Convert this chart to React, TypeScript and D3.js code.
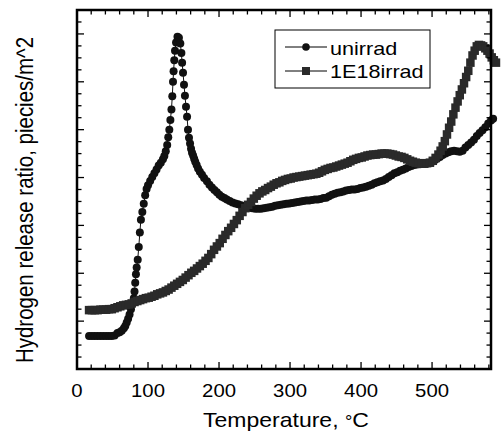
import React from "react";
import * as d3 from "d3";

const W = 501;
const H = 434;

const xMajorTicks = [0, 100, 200, 300, 400, 500];
const yMajorTicks = [0, 1, 2, 3, 4, 5, 6, 7];

const seriesNames = ["unirrad", "1E18irrad"];

// unirrad: [temperature °C, release ratio (arb.)]
const unirradT = [17,21,25,29,33,37,41,45,49,53,57,60,63,66,68,70,72,74,76,78,80,81,82,83,84,85.5,87,88.5,90,92,94,96,98,100,103,106,109,112,115,118,121,123,125,127,128.5,130,131.5,133,134.2,135.2,136,137,138,139.5,141.5,143.5,145.5,147,148,149.3,150.7,152,153.5,155,156.3,157.7,159.2,160.6,162,163.5,165,166.5,168.5,170.5,173,176,179,183,186.5,190,193.5,197,200.5,204,207.5,211,215,219,223,227,231,235,239,243,247,251,255,259,263,267,271,275,279,283,287,291,295,299,303,307,311,315,319,323,327,331,335,339,343,347,351,355,359,363,367,371,375,379,383,387,391,395,399,403,407,411,415,419,423,427,431,435,439,443,447,451,455,459,463,467,471,475,479,483,487,491,495,499,503,507,511,515,519,523,527,531,535,539,543,547,551,555,559,563,567,571,575,579,583,586];
const unirradV = [0.69,0.69,0.69,0.69,0.69,0.69,0.69,0.69,0.69,0.7,0.75,0.77,0.8,0.85,0.9,0.97,1.05,1.14,1.25,1.36,1.48,1.62,1.8,1.98,2.12,2.28,2.55,2.85,3.12,3.28,3.45,3.63,3.76,3.84,3.93,4.01,4.09,4.17,4.25,4.31,4.38,4.45,4.55,4.68,4.84,5.0,5.2,5.42,5.7,6.0,6.22,6.45,6.65,6.82,6.94,6.92,6.8,6.6,6.4,6.19,5.94,5.71,5.48,5.27,5.0,4.83,4.71,4.6,4.52,4.46,4.39,4.33,4.26,4.19,4.12,4.06,3.99,3.92,3.85,3.79,3.74,3.69,3.64,3.6,3.57,3.54,3.51,3.48,3.46,3.44,3.42,3.4,3.38,3.37,3.36,3.35,3.35,3.35,3.36,3.37,3.38,3.39,3.41,3.42,3.43,3.44,3.45,3.46,3.47,3.48,3.49,3.5,3.51,3.52,3.52,3.53,3.54,3.54,3.55,3.57,3.58,3.61,3.64,3.66,3.68,3.69,3.71,3.73,3.74,3.75,3.75,3.76,3.78,3.79,3.81,3.83,3.85,3.88,3.9,3.92,3.94,3.97,4.01,4.05,4.09,4.11,4.14,4.16,4.19,4.22,4.24,4.26,4.27,4.28,4.29,4.29,4.3,4.32,4.35,4.39,4.43,4.47,4.5,4.53,4.55,4.56,4.55,4.54,4.56,4.63,4.68,4.73,4.79,4.87,4.93,4.99,5.05,5.13,5.19,5.23];

// 1E18irrad
const irradT = [17,21,25,29,33,37,41,45,49,53,57,61,65,69,73,77,81,85,89,93,97,101,105,109,113,117,121,125,129,133,137,141,145,149,153,157,161,165,169,173,177,181,185,189,193,197,201,205,209,213,217,221,225,229,233,237,241,245,249,253,257,261,265,269,273,277,281,285,289,293,297,301,305,309,313,317,321,325,329,333,337,341,345,349,353,357,361,365,369,373,377,381,385,389,393,397,401,405,409,413,417,421,425,429,433,437,441,445,449,453,457,461,465,469,473,477,481,485,489,493,497,501,505,509,512,515,518,521,524,527,530,533,536,539,542,545,548,551,554,557,560,563,566,569,572,575,578,581,584,587,590];
const irradV = [1.23,1.23,1.23,1.23,1.24,1.24,1.24,1.25,1.25,1.27,1.29,1.31,1.33,1.34,1.35,1.37,1.4,1.42,1.44,1.46,1.48,1.49,1.51,1.53,1.56,1.58,1.6,1.63,1.66,1.7,1.74,1.78,1.82,1.86,1.91,1.96,2.01,2.05,2.1,2.15,2.2,2.26,2.32,2.4,2.49,2.56,2.63,2.72,2.8,2.88,2.95,3.03,3.11,3.2,3.28,3.36,3.43,3.49,3.56,3.62,3.67,3.71,3.74,3.78,3.81,3.85,3.88,3.9,3.93,3.95,3.97,3.98,4.0,4.01,4.02,4.03,4.04,4.05,4.06,4.07,4.08,4.1,4.13,4.16,4.18,4.2,4.21,4.23,4.25,4.27,4.29,4.31,4.34,4.37,4.39,4.41,4.42,4.44,4.46,4.47,4.48,4.48,4.49,4.5,4.5,4.5,4.49,4.48,4.46,4.44,4.43,4.41,4.38,4.35,4.33,4.31,4.3,4.29,4.29,4.3,4.31,4.35,4.41,4.48,4.56,4.65,4.76,4.9,5.04,5.17,5.32,5.46,5.59,5.72,5.84,5.97,6.1,6.23,6.4,6.55,6.65,6.74,6.77,6.76,6.74,6.7,6.65,6.59,6.51,6.45,6.4];

const FONT = "'Liberation Sans', Arial, Helvetica, sans-serif";

export default function App() {
  const x = d3.scaleLinear().domain([0, 583]).range([77, 491]);
  const y = d3.scaleLinear().domain([0, 7.5]).range([369, 10]);

  const xMinor = d3.range(0, 583, 20).filter((v) => v % 100 !== 0);
  const yMinor = d3.range(0, 7.5, 0.25).filter((v) => Math.abs(v - Math.round(v)) > 1e-6);

  const uni = unirradT.map((t, i) => [t, unirradV[i]] as [number, number]);
  const irr = irradT.map((t, i) => [t, irradV[i]] as [number, number]);

  const line = d3
    .line<[number, number]>()
    .x((d) => x(d[0]))
    .y((d) => y(d[1]));

  const [x0, x1] = x.range();
  const [y0, y1] = y.range();
  const majLen = 7;
  const minLen = 4.5;
  const circleColor = "#111";
  const squareColor = "#2a2a2a";
  const sq = 8.5;

  return (
    <svg
      width={W}
      height={H}
      style={{ position: "absolute", left: 0, top: 0, background: "#fff" }}
      fontFamily={FONT}
    >
      <rect x={0} y={0} width={W} height={H} fill="#fff" />

      {/* series: unirrad */}
      <path d={line(uni) || ""} fill="none" stroke={circleColor} strokeWidth={1} />
      {uni.map((d, i) => (
        <circle key={"u" + i} cx={x(d[0])} cy={y(d[1])} r={4} fill={circleColor} />
      ))}

      {/* series: 1E18irrad */}
      <path d={line(irr) || ""} fill="none" stroke={squareColor} strokeWidth={1} />
      {irr.map((d, i) => (
        <rect
          key={"s" + i}
          x={x(d[0]) - sq / 2}
          y={y(d[1]) - sq / 2}
          width={sq}
          height={sq}
          fill={squareColor}
        />
      ))}

      {/* ticks */}
      <g stroke="#000" strokeWidth={1.3}>
        {xMajorTicks.map((v) => (
          <g key={"xm" + v}>
            <line x1={x(v)} x2={x(v)} y1={y0} y2={y0 - majLen} />
            <line x1={x(v)} x2={x(v)} y1={y1} y2={y1 + majLen} />
          </g>
        ))}
        {xMinor.map((v) => (
          <g key={"xn" + v}>
            <line x1={x(v)} x2={x(v)} y1={y0} y2={y0 - minLen} />
            <line x1={x(v)} x2={x(v)} y1={y1} y2={y1 + minLen} />
          </g>
        ))}
        {yMajorTicks.map((v) => (
          <g key={"ym" + v}>
            <line x1={x0} x2={x0 + majLen} y1={y(v)} y2={y(v)} />
            <line x1={x1} x2={x1 - majLen} y1={y(v)} y2={y(v)} />
          </g>
        ))}
        {yMinor.map((v) => (
          <g key={"yn" + v}>
            <line x1={x0} x2={x0 + minLen} y1={y(v)} y2={y(v)} />
            <line x1={x1} x2={x1 - minLen} y1={y(v)} y2={y(v)} />
          </g>
        ))}
      </g>

      {/* frame */}
      <rect
        x={x0}
        y={y1}
        width={x1 - x0}
        height={y0 - y1}
        fill="none"
        stroke="#000"
        strokeWidth={2.5}
      />

      {/* x tick labels */}
      {xMajorTicks.map((v) => (
        <text
          key={"xl" + v}
          transform={`translate(${x(v)},397) scale(1.13,1)`}
          textAnchor="middle"
          fontSize={18}
          fill="#000"
        >
          {v}
        </text>
      ))}

      {/* axis titles */}
      <text
        transform={`translate(286,427) scale(1.15,1)`}
        textAnchor="middle"
        fontSize={20}
        fill="#000"
      >
        Temperature,{" "}
        <tspan fontSize={16}>°</tspan>
        <tspan>C</tspan>
      </text>
      <text
        transform={`translate(33,200) scale(1.2,1) rotate(-90)`}
        textAnchor="middle"
        fontSize={20.5}
        fill="#000"
      >
        Hydrogen release ratio, piecies/m^2
      </text>

      {/* legend */}
      <rect x={275} y={30} width={155} height={58} fill="#fff" stroke="#000" strokeWidth={1} />
      <line x1={285} x2={327} y1={47} y2={47} stroke="#000" strokeWidth={1} />
      <circle cx={306} cy={47} r={3.8} fill={circleColor} />
      <line x1={285} x2={327} y1={71} y2={71} stroke="#000" strokeWidth={1} />
      <rect x={306 - 4} y={71 - 4} width={8} height={8} fill={squareColor} />
      <text transform="translate(330,55) scale(1.2,1)" fontSize={18} fill="#000">
        {seriesNames[0]}
      </text>
      <text transform="translate(330,78) scale(1.2,1)" fontSize={18} fill="#000">
        {seriesNames[1]}
      </text>
    </svg>
  );
}
